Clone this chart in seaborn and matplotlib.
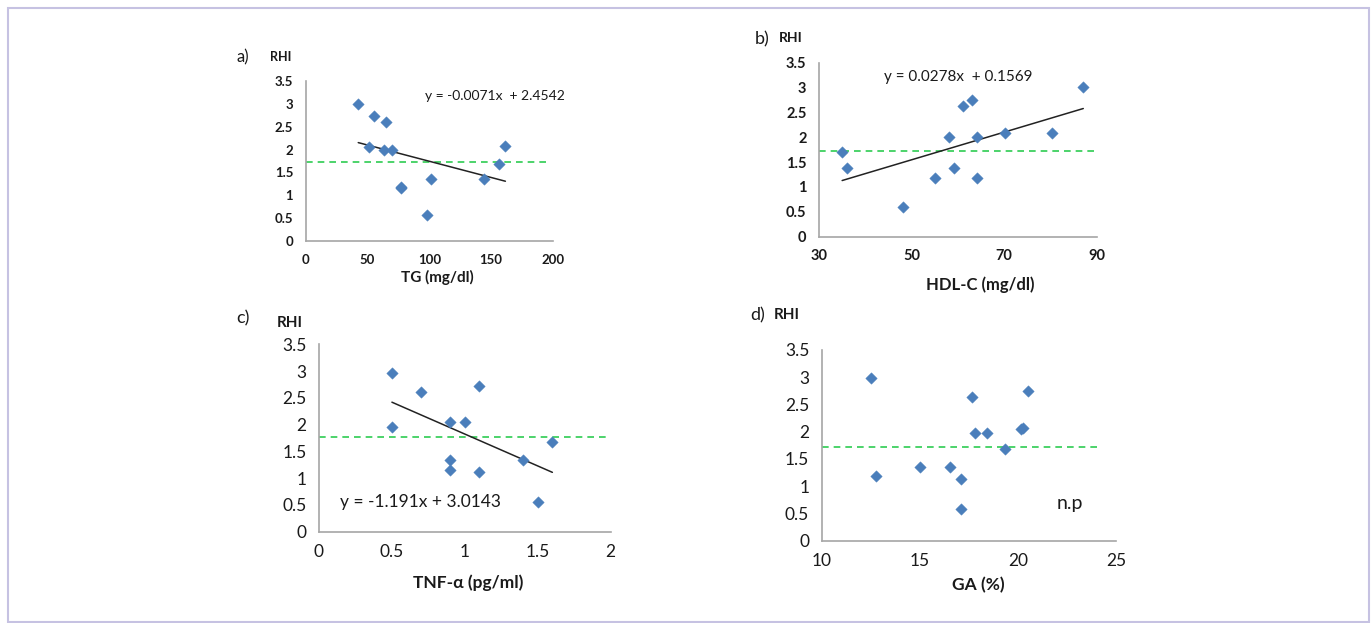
import matplotlib
matplotlib.use('Agg')
import matplotlib.pyplot as plt
import seaborn as sns
import numpy as np
import pandas as pd
from matplotlib.patches import Rectangle

# data
rhi_a = [3.00, 2.05, 2.74, 1.98, 2.61, 1.98, 1.16, 1.18, 0.57, 1.36, 1.35, 1.69, 2.07]
tg = [42.5, 51.4, 55.2, 63.5, 64.6, 69.4, 76.7, 77.0, 97.7, 101.5, 144, 156, 161.5]

hdl = [35.0, 36.0, 48.1, 55.1, 58.0, 59.2, 61.2, 63.1, 64.2, 64.2, 70.2, 80.3, 87.1]
rhi_b = [1.71, 1.38, 0.60, 1.18, 2.00, 1.38, 2.62, 2.75, 2.00, 1.19, 2.08, 2.08, 3.01]

tnf = [0.5, 0.5, 0.7, 0.9, 0.9, 0.9, 1.0, 1.1, 1.1, 1.4, 1.5, 1.6]
rhi_c = [2.96, 1.96, 2.61, 2.04, 1.34, 1.16, 2.05, 2.73, 1.12, 1.34, 0.56, 1.67]

ga = [12.53, 12.75, 15.01, 16.55, 17.10, 17.10, 17.66, 17.83, 18.44, 19.36, 20.14, 20.24, 20.54]
rhi_d = [2.99, 1.18, 1.35, 1.35, 1.13, 0.58, 2.63, 1.97, 1.97, 1.69, 2.05, 2.06, 2.75]

# fitted lines (slope, intercept) as printed, cut-off lines
fit_a = (-0.0071, 2.4542)
fit_b = (0.0278, 0.1569)
fit_c = (-1.191, 3.0143)
cut_a, cut_b, cut_c, cut_d = 1.72, 1.72, 1.77, 1.72

W, H = 1372, 623
sns.set_style('white')
plt.rcParams['font.family'] = ['Lato', 'DejaVu Sans']
plt.rcParams['text.color'] = '#1a1a1a'

fig = plt.figure(figsize=(W / 100, H / 100), dpi=100)

blue = '#4a7ebb'
green = '#2ecc52'
spine = '#a6a6a6'


def box(x0, x1, y0, y1):
    # pixel box (x of axis start/end, y of 0 and top) -> fig fraction
    return [x0 / W, 1 - y0 / H, (x1 - x0) / W, (y0 - y1) / H]


def panel(rect, x, y, xlim, xticks, fit, cut, tsize, bold, cut_end=1.0):
    ax = fig.add_axes(rect)
    df = pd.DataFrame({'x': x, 'y': y})
    sns.scatterplot(data=df, x='x', y='y', ax=ax, marker='D', s=34,
                    color=blue, edgecolor=blue, linewidth=0.3, zorder=3)
    if fit is not None:
        xs = np.array([min(x), max(x)])
        sns.lineplot(x=xs, y=fit[0] * xs + fit[1], ax=ax, color='#222222',
                     linewidth=1.1, zorder=2)
    ax.axhline(cut, xmax=cut_end, color=green, linestyle=(0, (4, 3)),
               linewidth=1.2, zorder=1)
    ax.set_xlim(xlim)
    ax.set_ylim(0, 3.5)
    ax.set_xticks(xticks)
    ax.set_yticks(np.arange(0, 3.51, 0.5))
    ax.set_yticklabels(['0', '0.5', '1', '1.5', '2', '2.5', '3', '3.5'])
    ax.set_xticklabels([f'{t:g}' for t in xticks])
    for s in ['top', 'right']:
        ax.spines[s].set_visible(False)
    for s in ['left', 'bottom']:
        ax.spines[s].set_color(spine)
        ax.spines[s].set_linewidth(1.2)
    ax.tick_params(axis='both', length=4, color=spine, width=1,
                   labelsize=tsize, pad=5, labelcolor='#1a1a1a')
    if bold:
        for lab in ax.get_xticklabels() + ax.get_yticklabels():
            lab.set_fontweight('bold')
    ax.set_xlabel('')
    ax.set_ylabel('')
    return ax


def ftext(px, py, s, **kw):
    fig.text(px / W, 1 - py / H, s, ha=kw.pop('ha', 'center'),
             va=kw.pop('va', 'center'), **kw)


# a)
panel(box(305.7, 553, 241, 81), tg, rhi_a, (0, 200), [0, 50, 100, 150, 200],
      fit_a, cut_a, 9.5, True, 0.98)
ftext(243, 57, 'a)', fontsize=12)
ftext(281, 57, 'RHI', fontsize=9, fontweight='bold')
ftext(495, 96, 'y = -0.0071x  + 2.4542', fontsize=10)
ftext(437, 277, 'TG (mg/dl)', fontsize=11, fontweight='bold')

# b)
panel(box(819, 1096.7, 236.7, 62.7), hdl, rhi_b, (30, 90), [30, 50, 70, 90],
      fit_b, cut_b, 10.5, True)
ftext(762, 39, 'b)', fontsize=13)
ftext(791, 38, 'RHI', fontsize=10, fontweight='bold')
ftext(958, 77, 'y = 0.0278x  + 0.1569', fontsize=11)
ftext(980, 285, 'HDL-C (mg/dl)', fontsize=12, fontweight='bold')

# c)
panel(box(319, 610.7, 531.7, 344.3), tnf, rhi_c, (0, 2), [0, 0.5, 1, 1.5, 2],
      fit_c, cut_c, 12.5, False, 0.985)
ftext(243, 318, 'c)', fontsize=13)
ftext(290, 323, 'RHI', fontsize=11, fontweight='bold')
ftext(420, 502, 'y = -1.191x + 3.0143', fontsize=12.5)
ftext(468, 583, 'TNF-α (pg/ml)', fontsize=12.5, fontweight='bold')

# d)
panel(box(821.7, 1116, 540.7, 350), ga, rhi_d, (10, 25), [10, 15, 20, 25],
      None, cut_d, 12.5, False, 0.945)
ftext(758, 315, 'd)', fontsize=13)
ftext(787, 315, 'RHI', fontsize=11, fontweight='bold')
ftext(1070, 503, 'n.p', fontsize=14)
ftext(978, 585, 'GA (%)', fontsize=12.5, fontweight='bold')

# thin frame around the whole figure
fig.patches.append(Rectangle((8 / W, 1 - 622 / H), (1369 - 8) / W, (622 - 8) / H,
                             transform=fig.transFigure, fill=False,
                             edgecolor='#c6c2e2', linewidth=1.5))

fig.savefig('out.png', dpi=100)
